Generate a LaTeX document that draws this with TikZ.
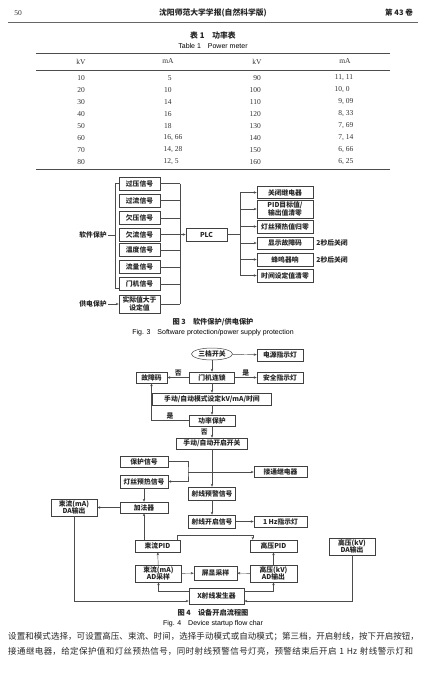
\documentclass[tikz,border=0pt]{standalone}
\usepackage{fontspec}
\setmainfont{Liberation Serif}
\newfontfamily\cjkfont{Noto Sans CJK SC}
\newfontfamily\engsans{Liberation Sans}
\usetikzlibrary{positioning,calc,arrows.meta,shapes.geometric}

\begin{document}
\begin{tikzpicture}[
x=1pt, y=-1pt,
box/.style={
draw=black!75,
line width=0.5pt,
inner sep=0pt,
align=center,
text=black!85,
font=\cjkfont\bfseries\fontsize{6.8}{7.6}\selectfont
},
sig/.style={
box,
minimum width=41pt,
minimum height=13pt
},
act/.style={
box,
minimum width=56pt,
minimum height=12pt
},
lbl/.style={
inner sep=1pt,
text=black!85,
font=\cjkfont\bfseries\fontsize{6.8}{7.6}\selectfont
},
num/.style={
inner sep=0pt,
text=black!80,
font=\fontsize{7.5}{8}\selectfont
},
line/.style={
draw=black!70,
line width=0.45pt
},
arrow/.style={
-{Stealth[length=3pt,width=2.4pt]},
draw=black!70,
line width=0.45pt
}
]

\useasboundingbox[fill=white] (0,0) rectangle (427,678);

% Page head

\node[num] (page) at (18,13) {50};
\node[lbl, font=\cjkfont\bfseries\fontsize{7.8}{8}\selectfont] (journal) at (213,13)
{沈阳师范大学学报(自然科学版)};
\node[lbl, font=\cjkfont\bfseries\fontsize{7.5}{8}\selectfont] (volume) at (399,13)
{第 43 卷};
\draw[black!60, line width=1pt] (8,22) -- (418,22);


% Table 1

\node[lbl, font=\cjkfont\bfseries\fontsize{7.8}{8}\selectfont] (tabcap) at (213,36)
{表 1\quad 功率表};
\node[inner sep=0pt, font=\engsans\fontsize{7}{8}\selectfont] (tabcapen) at (213,46)
{Table 1\quad Power meter};

\draw[black!70, line width=0.8pt] (36,53) -- (390,53);
\draw[black!70, line width=0.5pt] (36,70) -- (390,70);
\draw[black!70, line width=0.8pt] (36,169) -- (390,169);

\node[num] (hkv) at (81,61.5) {kV};
\node[num] (hma) at (168,61.5) {mA};
\node[num] (hkv2) at (257,61.5) {kV};
\node[num] (hma2) at (345,61.5) {mA};

\foreach \kv/\mi/\mf/\kvb/\ni/\nf [count=\r] in
{10/5//90/11/{, 11}, 20/10//100/10/{, 0}, 30/14//110/9/{, 09},
40/16//120/8/{, 33}, 50/18//130/7/{, 69}, 60/16/{, 66}/140/7/{, 14},
70/14/{, 28}/150/6/{, 66}, 80/12/{, 5}/160/6/{, 25}}
{
\node[num, anchor=east] at (85,66+12*\r) {\kv};
\node[num, anchor=west] at (171,66+12*\r) {\llap{\mi}\mf};
\node[num, anchor=east] at (261,66+12*\r) {\kvb};
\node[num, anchor=west] at (342,66+12*\r) {\llap{\ni}\nf};
}


% Fig. 3 protection signals

\node[sig] (ov) at (139.5,183.5) {过压信号};
\node[sig] (oc) at (139.5,200.5) {过流信号};
\node[sig] (uv) at (139.5,218) {欠压信号};
\node[sig] (uc) at (139.5,234.5) {欠流信号};
\node[sig] (temp) at (139.5,250) {温度信号};
\node[sig] (flow) at (139.5,267) {流量信号};
\node[sig] (door) at (139.5,284) {门机信号};
\node[sig, minimum height=18pt] (actual) at (139.5,304) {实际值大于\\设定值};

\node[lbl] (soft) at (93,235) {软件保护};
\node[lbl] (supply) at (93,304) {供电保护};

\coordinate (brk) at (115,0);
\coordinate (bus) at (180,0);
\coordinate (rbus) at (240,0);

\draw[line] (ov.west) -- (ov.west -| brk) |- ([yshift=3pt]door.south west);
\draw[line] (soft.east) -- (soft.east -| brk);
\draw[arrow] (supply) -- (actual);

\foreach \n in {ov,oc,uv,uc,temp,flow,door,actual}
\draw[line] (\n.east) -- (\n.east -| bus);
\draw[line] (ov.east -| bus) -- (actual.east -| bus);

\node[sig] (plc) at (206.5,234.5) {PLC};
\draw[arrow] (uc.east -| bus) -- (plc.west);


% PLC actions

\node[act] (relay) at (285,192.5) {关闭继电器};
\node[act, minimum height=18pt] (pid) at (285,209) {PID目标值/\\输出值清零};
\node[act, minimum height=13pt] (fil) at (285,226.5) {灯丝预热值归零};
\node[act] (code) at (285,243) {显示故障码};
\node[act, minimum height=13pt] (buzz) at (285,259.5) {蜂鸣器响};
\node[act, minimum height=13pt] (timer) at (285,275.5) {时间设定值清零};

\node[lbl, right=2pt of code] (codeoff) {2秒后关闭};
\node[lbl, right=2pt of buzz] (buzzoff) {2秒后关闭};

\draw[line] (plc.east) -- (plc.east -| rbus);
\draw[line] (relay.west -| rbus) -- (timer.west -| rbus);
\foreach \n in {relay,pid,fil,code,buzz,timer}
\draw[arrow] (\n.west -| rbus) -- (\n.west);

\node[lbl, font=\cjkfont\bfseries\fontsize{7.2}{8}\selectfont] (fig3cap) at (213,322.5)
{图 3\quad 软件保护/供电保护};
\node[inner sep=0pt, font=\engsans\fontsize{7}{8}\selectfont] (fig3capen) at (213,333)
{Fig. 3\quad Software protection/power supply protection};


% Fig. 4 start-up flow

\node[box, ellipse, minimum width=41pt, minimum height=12pt] (sw) at (212,354) {三档开关};
\node[box, minimum width=46pt, minimum height=12pt] (pwr) at (280,355) {电源指示灯};

\node[box, minimum width=45pt, minimum height=11pt] (door2) at (212,377.5) {门机连锁};
\node[box, minimum width=31pt, minimum height=11pt] (fault) at (151.5,377.5) {故障码};
\node[box, minimum width=46pt, minimum height=11pt] (safe) at (280,377.5) {安全指示灯};

\node[box, minimum width=119pt, minimum height=12pt] (mode) at (212,399)
{手动/自动模式设定kV/mA/时间};
\node[box, minimum width=46pt, minimum height=11pt] (prot) at (212,420.5) {功率保护};
\node[box, minimum width=71pt, minimum height=11pt] (start) at (212,443.5) {手动/自动开启开关};

\draw[arrow] (sw) -- (pwr);
\draw[arrow] (sw) -- (door2);
\draw[arrow] (door2) -- node[lbl, above] {否} (fault);
\draw[arrow] (door2) -- node[lbl, above] {是} (safe);
\draw[arrow] (door2) -- (mode);
\draw[arrow] (mode) -- (prot);
\draw[arrow] (prot.west) -| node[lbl, above, pos=0.25] {是} (fault.south);
\draw[arrow] (prot) -- node[lbl, left=3pt] {否} (start);

\node[box, minimum width=48pt, minimum height=11pt] (protsig) at (144,461.5) {保护信号};
\node[box, minimum width=48pt, minimum height=13pt] (filsig) at (144,481.5) {灯丝预热信号};
\node[box, minimum width=53pt, minimum height=11pt] (relay2) at (280.5,472) {接通继电器};

\node[box, minimum width=47pt, minimum height=13pt] (warn) at (212,493.5) {射线预警信号};
\node[box, minimum width=47pt, minimum height=13pt] (xon) at (212,521.5) {射线开启信号};
\node[box, minimum width=53pt, minimum height=11pt] (hz) at (280.5,521.5) {1 Hz指示灯};

\node[box, minimum width=48pt, minimum height=11pt] (adder) at (144,507.5) {加法器};
\node[box, minimum width=46pt, minimum height=17pt] (curda) at (74,507.5) {束流(mA)\\DA输出};

\coordinate (jx) at (188,472);

\draw[arrow] (start) -- (warn);
\draw[arrow] (protsig.east) -| (jx) |- (filsig.east);
\draw[arrow] (jx) -- (relay2);
\draw[arrow] (filsig) -- (adder);
\draw[arrow] (adder) -- (curda);
\draw[arrow] (warn) -- (xon);
\draw[arrow] (xon) -- (hz);


% Control loops

\node[box, minimum width=45pt, minimum height=12pt] (curpid) at (157.5,546) {束流PID};
\node[box, minimum width=47pt, minimum height=12pt] (hvpid) at (273.5,546) {高压PID};
\node[box, minimum width=46pt, minimum height=17pt] (hvda) at (352,546.5) {高压(kV)\\DA输出};

\node[box, minimum width=46pt, minimum height=17pt] (curad) at (158.5,573.5) {束流(mA)\\AD采样};
\node[box, minimum width=43pt, minimum height=14pt] (disp) at (215.5,573) {屏显采样};
\node[box, minimum width=47pt, minimum height=17pt] (hvad) at (273.5,573.5) {高压(kV)\\AD输出};

\node[box, minimum width=55pt, minimum height=16pt] (xgen) at (216.5,596) {X射线发生器};

\draw[arrow] (curpid.north -| adder.south) -- (adder.south);
\draw[arrow] ([xshift=-3pt]curpid.north east) -- ++(0,-5) -| ([xshift=3pt]hvpid.north west);
\draw[arrow] (curad) -- (curpid);
\draw[arrow] (hvad) -- (hvpid);
\draw[arrow] (curad) -- (disp);
\draw[arrow] (hvad) -- (disp);
\draw[arrow] ([yshift=5pt]xgen.west) -| (curad.south);
\draw[arrow] ([yshift=5pt]xgen.east) -| (hvad.south);
\draw[arrow] (curda.south) |- ([yshift=-5pt]xgen.west);
\draw[arrow] (hvda.south) |- ([yshift=-5pt]xgen.east);

\node[lbl, font=\cjkfont\bfseries\fontsize{7.2}{8}\selectfont] (fig4cap) at (213,613)
{图 4\quad 设备开启流程图};
\node[inner sep=0pt, font=\engsans\fontsize{7}{8}\selectfont] (fig4capen) at (213,624)
{Fig. 4\quad Device startup flow char};


% Body text

\node[anchor=north west, inner sep=0pt, text width=412pt, text=black!85,
font=\cjkfont\fontsize{8.5}{14.5}\selectfont] (body) at (8,632.5)
{\XeTeXlinebreaklocale "zh"\XeTeXlinebreakskip=0pt plus 1pt\parfillskip=0pt\relax
设置和模式选择，可设置高压、束流、时间，选择手动模式或自动模式；第三档，开启射线，按下开启按钮，\par
接通继电器，给定保护值和灯丝预热信号，同时射线预警信号灯亮，预警结束后开启 1 Hz 射线警示灯和\par};

\end{tikzpicture}
\end{document}
